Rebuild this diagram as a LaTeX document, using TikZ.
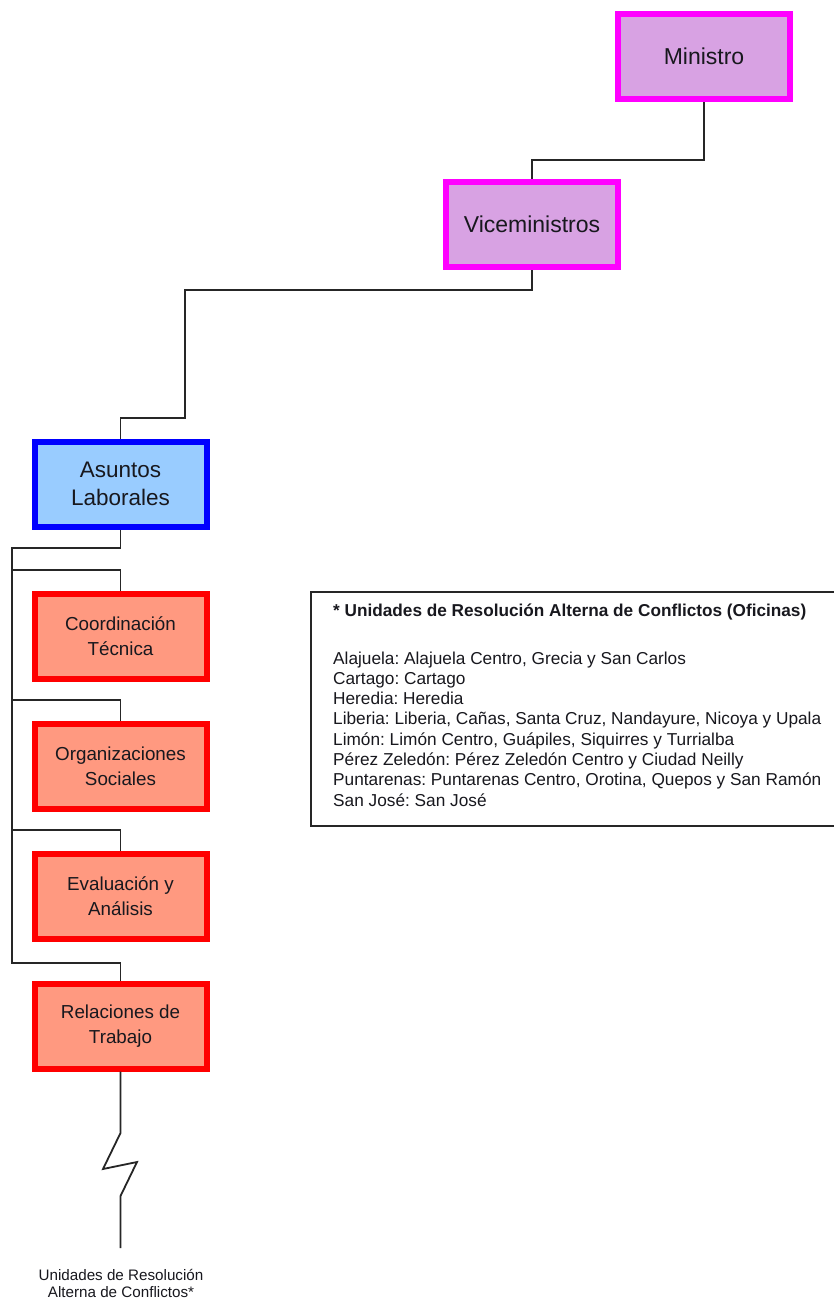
\documentclass[tikz,border=0pt]{standalone}
\usepackage{fontspec}
\setmainfont{Liberation Sans}
\definecolor{minfill}{HTML}{D8A2E3}
\definecolor{minedge}{HTML}{FF00FF}
\definecolor{asufill}{HTML}{99CCFF}
\definecolor{asuedge}{HTML}{0000FF}
\definecolor{depfill}{HTML}{FF9980}
\definecolor{depedge}{HTML}{FF0000}
\definecolor{ink}{HTML}{18181E}
\definecolor{wire}{HTML}{262626}
\frenchspacing
\begin{document}
\begin{tikzpicture}[x=1pt,y=-1pt,
  unit/.style={draw, line width=6pt, minimum width=172pt, minimum height=85pt,
    align=center, inner sep=0pt, text=ink},
  topunit/.style={unit, draw=minedge, fill=minfill, font=\fontsize{23}{28}\selectfont},
  mainunit/.style={unit, draw=asuedge, fill=asufill, font=\fontsize{22.5}{28}\selectfont},
  subunit/.style={unit, draw=depedge, fill=depfill, font=\fontsize{18.8}{25}\selectfont},
  conn/.style={line width=1.8pt, draw=wire},
  legline/.style={anchor=base west, inner sep=0pt, text=ink, font=\fontsize{17.25}{20}\selectfont},
]
\useasboundingbox (0,0) rectangle (834,1299);
\fill[white] (0,0) rectangle (834,1299);

% organisation units
\node[topunit]  (min)  at (704,56.5)  {Ministro};
\node[topunit]  (vice) at (532,224.5) {Viceministros};
\node[mainunit] (asu)  at (120.5,484)   {Asuntos\\Laborales};
\node[subunit]  (coord) at (120.5,636)  {Coordinación\\Técnica};
\node[subunit]  (org)   at (120.5,766)  {Organizaciones\\Sociales};
\node[subunit]  (eval)  at (120.5,896)  {Evaluación y\\Análisis};
\node[subunit]  (rel)   at (120.5,1026) {Relaciones de\\Trabajo};

% reporting lines
\draw[conn] (min.south) -- ++(0,58) -| (vice.north);
\draw[conn] (vice.south) |- (185,290) -- (185,418) -| (asu.north);
\draw[conn] (asu.south) |- (12,548) -- (12,963) -| (rel.north);
\draw[conn] (12,570) -| (coord.north);
\draw[conn] (12,700) -| (org.north);
\draw[conn] (12,830) -| (eval.north);

% broken link to the regional offices
\node[text=ink, align=center, inner sep=0pt, font=\fontsize{15.2}{17}\selectfont] (urac) at (121,1283)
  {Unidades de Resolución\\Alterna de Conflictos*};
\coordinate (tail) at (120.5,1248);
\draw[conn, line join=miter] (rel.south) -- (120.5,1133) -- (103,1169) -- (137,1162) -- (120.5,1196) -- (tail);

% legend of offices
\draw[line width=1.5pt, draw=wire] (311,592) rectangle (845,826);
\node[legline, font=\fontsize{17.2}{20}\selectfont\bfseries] (legtitle) at (333,616)
  {* Unidades de Resolución Alterna de Conflictos (Oficinas)};
\foreach \t [count=\i] in {
  {Alajuela: Alajuela Centro, Grecia y San Carlos},
  {Cartago: Cartago},
  {Heredia: Heredia},
  {Liberia: Liberia, Cañas, Santa Cruz, Nandayure, Nicoya y Upala},
  {Limón: Limón Centro, Guápiles, Siquirres y Turrialba},
  {Pérez Zeledón: Pérez Zeledón Centro y Ciudad Neilly},
  {Puntarenas: Puntarenas Centro, Orotina, Quepos y San Ramón},
  {San José: San José}}
  \node[legline] (leg\i) at (333,{664+20.3*(\i-1)}) {\t};
\end{tikzpicture}
\end{document}
